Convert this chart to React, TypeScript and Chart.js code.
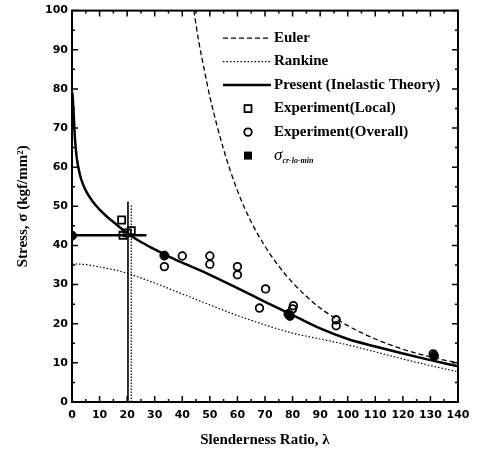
import React, { useEffect, useRef } from "react";
import { Chart, registerables } from "chart.js";
Chart.register(...registerables);

// ---- Data ----
// Euler curve
const eulerLambda = [44.2, 46, 48, 50, 55, 60, 65, 70, 75, 80, 85, 90, 95, 100, 110, 120, 130, 140];
const eulerStress = [100, 92, 84.8, 78, 64.5, 54, 46, 39.8, 34.7, 30.5, 27, 24, 21.6, 19.5, 16.1, 13.5, 11.5, 10];
// Rankine curve
const rankineLambda = [0, 5, 10, 15, 20, 30, 40, 50, 60, 70, 80, 90, 100, 110, 120, 130, 140];
const rankineStress = [35.3, 35.1, 34.5, 33.8, 32.9, 30.4, 27.6, 24.8, 22.1, 19.7, 17.6, 16.1, 14.6, 12.8, 11.0, 9.3, 7.7];
// Present (inelastic theory)
const presentLambda = [0.15, 0.5, 1.1, 1.7, 2.9, 4, 5.3, 7.5, 10.2, 12.6, 15, 19.9, 24.7, 30, 35, 40, 50, 60, 70, 80, 90, 100, 110, 120, 130, 140];
const presentStress = [79, 75, 67, 62.5, 58, 55.6, 53.6, 51.2, 49, 47.4, 46, 43.2, 41, 39, 37.2, 35.6, 32.5, 29.1, 25.6, 22.2, 18.8, 16.1, 14.2, 12.4, 10.7, 9.1];
// Experiment (local)
const localLambda = [18, 18.5, 20, 21.5];
const localStress = [46.5, 42.6, 43.2, 43.8];
// Experiment (overall)
const overallLambda = [33.5, 40, 50, 50, 60, 60, 70.2, 68, 80.3, 80, 95.8, 95.8, 131];
const overallStress = [34.6, 37.3, 37.3, 35.2, 34.6, 32.5, 28.9, 24, 24.6, 23.8, 21, 19.5, 12.3];
// sigma cr-lo-min
const crLambda = [0, 33.5, 78.5, 79, 131.3];
const crStress = [42.5, 37.4, 22.5, 22, 11.8];
// reference lines
const hLineLambda = [0, 27];
const hLineStress = [42.6, 42.6];
const vSolidLambda = [20.3, 20.3];
const vSolidStress = [0, 51.2];
const vDotLambda = [21.5, 21.5];
const vDotStress = [0, 50.5];
// axes
const xTickMin = 0, xTickMax = 140, xStep = 10;
const yTickMin = 0, yTickMax = 100, yStep = 10;

const toXY = (xs: number[], ys: number[]) => xs.map((x, i) => ({ x, y: ys[i] }));

const SERIF = '"Liberation Serif", "Times New Roman", serif';
const SANS = '"DejaVu Sans", sans-serif';

const frameTicksPlugin = {
  id: "frameTicks",
  afterDatasetsDraw(chart: any) {
    const { ctx, chartArea } = chart;
    const { left, right, top, bottom } = chartArea;
    const xs = chart.scales.x, ys = chart.scales.y;
    ctx.save();
    ctx.strokeStyle = "#000";
    ctx.lineWidth = 1.5;
    ctx.beginPath();
    for (let v = xTickMin; v <= xTickMax; v += xStep / 2) {
      const p = xs.getPixelForValue(v);
      const len = v % xStep === 0 ? 6 : 3;
      ctx.moveTo(p, bottom); ctx.lineTo(p, bottom - len);
      ctx.moveTo(p, top); ctx.lineTo(p, top + len);
    }
    for (let v = yTickMin; v <= yTickMax; v += yStep / 2) {
      const p = ys.getPixelForValue(v);
      const len = v % yStep === 0 ? 6 : 3;
      ctx.moveTo(left, p); ctx.lineTo(left + len, p);
      ctx.moveTo(right, p); ctx.lineTo(right - len, p);
    }
    ctx.stroke();
    ctx.lineWidth = 2;
    ctx.strokeRect(left, top, right - left, bottom - top);
    ctx.restore();
  },
  afterDraw(chart: any) {
    const { ctx, chartArea } = chart;
    const { left, top } = chartArea;
    const lx0 = left + 151, lx1 = left + 199, tx = left + 202, mx = left + 176;
    let ly = top + 27.5;
    const dy = 23.5;
    ctx.save();
    ctx.fillStyle = "#000";
    ctx.strokeStyle = "#000";
    chart.data.datasets.forEach((ds: any) => {
      if (!ds.legendKind) return;
      if (ds.legendKind === "line") {
        ctx.lineWidth = ds.borderWidth;
        ctx.setLineDash(ds.borderDash || []);
        ctx.beginPath();
        ctx.moveTo(lx0, ly); ctx.lineTo(lx1, ly);
        ctx.stroke();
        ctx.setLineDash([]);
      } else if (ds.legendKind === "square") {
        ctx.lineWidth = 1.8;
        ctx.strokeRect(mx - 3.5, ly - 3.5, 7, 7);
      } else if (ds.legendKind === "circle") {
        ctx.lineWidth = 1.8;
        ctx.beginPath();
        ctx.arc(mx, ly, 3.8, 0, Math.PI * 2);
        ctx.stroke();
      } else if (ds.legendKind === "filled") {
        ctx.fillRect(mx - 4, ly - 4, 8, 8);
      }
      ctx.textBaseline = "middle";
      ctx.textAlign = "left";
      const label: string = ds.label;
      if (label.includes("_")) {
        const [main, sub] = label.split("_");
        ctx.font = `italic 17px ${SERIF}`;
        ctx.fillText(main, tx, ly);
        const w = ctx.measureText(main).width;
        ctx.font = `italic bold 8px ${SERIF}`;
        ctx.fillText(sub, tx + w, ly + 5);
      } else {
        ctx.font = `bold 15px ${SERIF}`;
        ctx.fillText(label, tx, ly);
      }
      ly += dy;
    });
    ctx.restore();
  },
};

export default function App() {
  const ref = useRef<HTMLCanvasElement | null>(null);
  useEffect(() => {
    document.body.style.margin = "0";
    const canvas = ref.current;
    if (!canvas) return;
    const chart = new Chart(canvas, {
      type: "scatter",
      data: {
        datasets: [
          {
            label: "Euler", legendKind: "line",
            data: toXY(eulerLambda, eulerStress), showLine: true,
            borderColor: "#000", borderWidth: 1.3, borderDash: [5, 3],
            pointRadius: 0, tension: 0.3, cubicInterpolationMode: "monotone",
          } as any,
          {
            label: "Rankine", legendKind: "line",
            data: toXY(rankineLambda, rankineStress), showLine: true,
            borderColor: "#000", borderWidth: 1.2, borderDash: [1.5, 2],
            pointRadius: 0, tension: 0.3, cubicInterpolationMode: "monotone",
          } as any,
          {
            label: "Present (Inelastic Theory)", legendKind: "line",
            data: toXY(presentLambda, presentStress), showLine: true,
            borderColor: "#000", borderWidth: 2.5,
            pointRadius: 0, tension: 0.3, cubicInterpolationMode: "monotone",
          } as any,
          {
            label: "Experiment(Local)", legendKind: "square",
            data: toXY(localLambda, localStress), showLine: false,
            pointStyle: "rect", pointRadius: 5, borderColor: "#000", borderWidth: 1.8,
            backgroundColor: "rgba(255,255,255,0)",
          } as any,
          {
            label: "Experiment(Overall)", legendKind: "circle",
            data: toXY(overallLambda, overallStress), showLine: false,
            pointStyle: "circle", pointRadius: 3.8, borderColor: "#000", borderWidth: 1.8,
            backgroundColor: "rgba(255,255,255,0)",
          } as any,
          {
            label: "σ_cr-lo-min", legendKind: "filled",
            data: toXY(crLambda, crStress), showLine: false,
            pointStyle: "circle", pointRadius: 4.5, borderColor: "#000", borderWidth: 1,
            backgroundColor: "#000",
          } as any,
          {
            label: "hline",
            data: toXY(hLineLambda, hLineStress), showLine: true,
            borderColor: "#000", borderWidth: 2.5, pointRadius: 0,
          } as any,
          {
            label: "vsolid",
            data: toXY(vSolidLambda, vSolidStress), showLine: true,
            borderColor: "#000", borderWidth: 1.6, pointRadius: 0,
          } as any,
          {
            label: "vdot",
            data: toXY(vDotLambda, vDotStress), showLine: true,
            borderColor: "#000", borderWidth: 1.2, borderDash: [1.5, 1.5], pointRadius: 0,
          } as any,
        ],
      },
      options: {
        animation: false,
        responsive: false,
        maintainAspectRatio: false,
        layout: { padding: { left: 0, right: 19, top: 9, bottom: 0 } },
        plugins: { legend: { display: false }, tooltip: { enabled: false } },
        scales: {
          x: {
            type: "linear", min: xTickMin, max: xTickMax,
            grid: { display: false, drawTicks: false },
            border: { display: false },
            ticks: { stepSize: xStep, color: "#000", padding: 7, maxRotation: 0, font: { family: SANS, weight: "bold", size: 11 } },
            title: { display: true, text: "Slenderness Ratio, λ", color: "#000", font: { family: SERIF, weight: "bold", size: 15 }, padding: { top: 0, bottom: 5 } },
            afterFit: (s: any) => { s.height = 52; },
          },
          y: {
            type: "linear", min: yTickMin, max: yTickMax,
            grid: { display: false, drawTicks: false },
            border: { display: false },
            ticks: { stepSize: yStep, color: "#000", padding: 4, font: { family: SANS, weight: "bold", size: 11 } },
            title: { display: true, text: "Stress, σ (kgf/mm²)", color: "#000", font: { family: SERIF, weight: "bold", size: 15 }, padding: { top: 14, bottom: 0 } },
            afterFit: (s: any) => { s.width = 72; },
          },
        },
      } as any,
      plugins: [frameTicksPlugin],
    });
    return () => chart.destroy();
  }, []);
  return (
    <div style={{ width: 477, height: 454, background: "#fff" }}>
      <canvas ref={ref} width={477} height={454} style={{ display: "block" }} />
    </div>
  );
}
